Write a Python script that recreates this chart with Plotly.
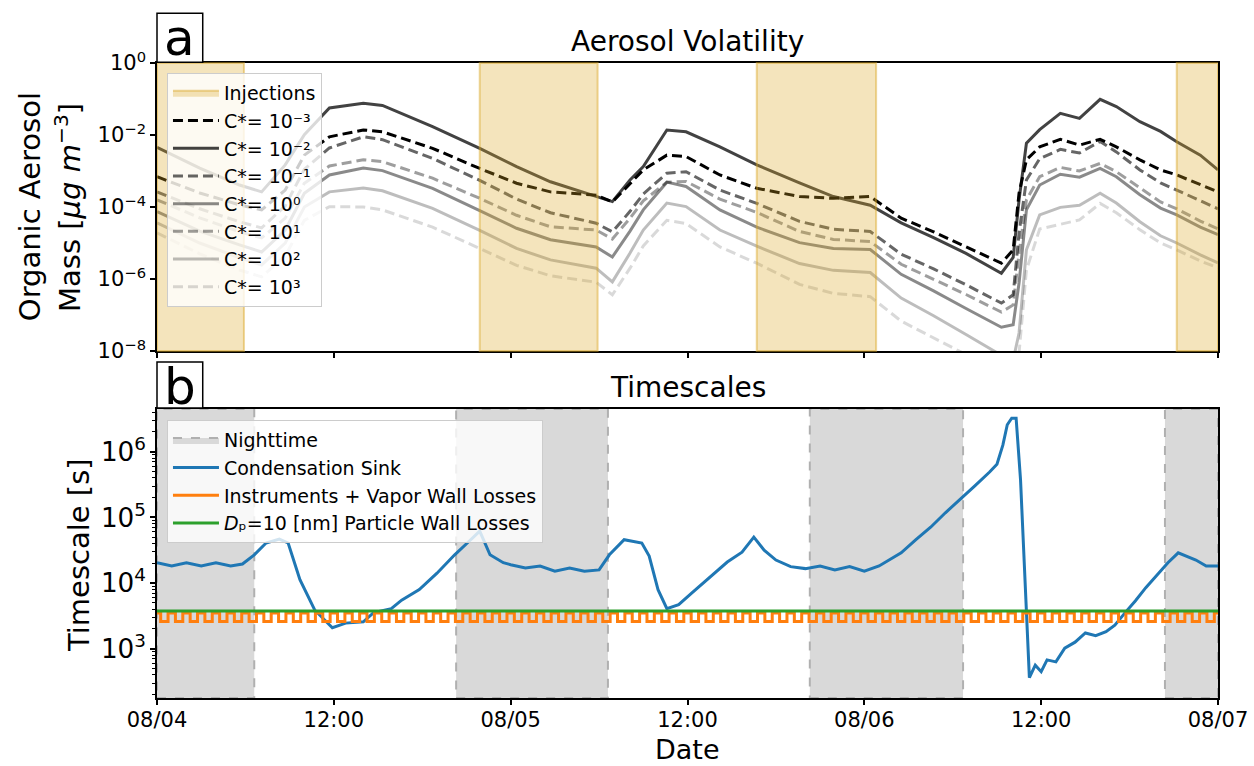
import numpy as np
import pandas as pd
import plotly.graph_objects as go

# ---------------- data ----------------
START = pd.Timestamp("2021-08-04 00:00")
X_TICK_HOURS = [0, 12, 24, 36, 48, 60, 72]
X_TICK_LABELS = ["08/04", "12:00", "08/05", "12:00", "08/06", "12:00", "08/07"]

INJECTION_SPANS_H = [(0.0, 5.9), (21.9, 29.9), (40.7, 48.8), (69.2, 72.0)]
NIGHT_SPANS_H = [(0.0, 6.6), (20.3, 30.6), (44.3, 54.7), (68.4, 72.0)]

# Panel a: organic aerosol mass per volatility bin (log10 of ug m-3)
VOL_HOURS = [0, 2.9, 5.6, 7.1, 8.7, 10.0, 11.7, 14.0, 15.3, 18.7, 21.9, 24.4, 26.7, 29.8,
             30.9, 32.1, 33.0, 34.6, 35.9, 38.2, 40.7, 43.6, 45.9, 48.4, 50.5, 52.7, 54.9,
             57.3, 58.1, 58.5, 59.0, 59.9, 61.3, 62.6, 64.0, 65.1, 66.7, 68.1, 69.2, 70.8, 72.0]
LOG10_C_M3 = [-3.16, -3.61, -3.94, -4.08, -3.53, -2.56, -2.05, -1.86, -1.91, -2.37, -2.93, -3.34,
              -3.58, -3.67, -3.86, -3.34, -2.97, -2.56, -2.60, -3.11, -3.48, -3.71, -3.76, -3.71,
              -4.31, -4.69, -5.10, -5.56, -5.19, -3.61, -2.69, -2.33, -2.12, -2.28, -2.12, -2.33,
              -2.69, -2.97, -3.11, -3.39, -3.58]
LOG10_C_M2 = [-2.34, -2.92, -3.39, -3.58, -2.83, -1.99, -1.25, -1.12, -1.18, -1.77, -2.37, -2.88,
              -3.30, -3.71, -3.85, -3.25, -2.88, -1.86, -1.91, -2.33, -2.83, -3.33, -3.71, -3.95,
              -4.44, -4.85, -5.29, -5.84, -5.40, -3.80, -2.23, -1.85, -1.40, -1.54, -1.01, -1.21,
              -1.63, -1.90, -2.19, -2.56, -2.97]
LOG10_C_M1 = [-3.58, -4.05, -4.41, -4.58, -3.97, -2.95, -2.36, -2.05, -2.13, -2.65, -3.26, -3.78,
              -4.16, -4.45, -4.69, -4.12, -3.64, -3.06, -3.02, -3.53, -3.90, -4.40, -4.62, -4.68,
              -5.31, -5.72, -6.16, -6.67, -6.44, -4.72, -3.25, -2.66, -2.40, -2.50, -2.18, -2.47,
              -2.97, -3.33, -3.53, -3.83, -4.05]
LOG10_C_0 = [-4.13, -4.67, -5.05, -5.25, -4.64, -3.62, -3.11, -2.92, -2.99, -3.48, -4.10, -4.59,
             -4.91, -5.11, -5.39, -4.67, -4.08, -3.31, -3.43, -4.08, -4.56, -4.99, -5.15, -5.18,
             -5.87, -6.33, -6.82, -7.34, -7.27, -6.11, -4.08, -3.39, -3.09, -3.17, -2.93, -3.16,
             -3.66, -4.03, -4.22, -4.56, -4.77]
LOG10_C_P1 = [-3.80, -4.30, -4.69, -4.86, -4.31, -3.34, -2.86, -2.69, -2.74, -3.20, -3.76, -4.23,
              -4.55, -4.64, -4.89, -4.31, -3.83, -3.31, -3.29, -3.78, -4.15, -4.68, -4.90, -4.96,
              -5.59, -6.00, -6.43, -6.92, -6.72, -5.28, -3.80, -3.16, -2.90, -3.00, -2.79, -3.02,
              -3.47, -3.86, -4.05, -4.39, -4.61]
LOG10_C_P2 = [-4.44, -5.00, -5.41, -5.61, -5.00, -4.00, -3.58, -3.47, -3.55, -4.04, -4.65, -5.15,
              -5.47, -5.70, -6.08, -5.28, -4.64, -3.89, -3.99, -4.64, -5.09, -5.57, -5.76, -5.82,
              -6.53, -7.02, -7.54, -8.12, -8.25, -7.50, -5.19, -4.22, -4.01, -3.95, -3.62, -3.89,
              -4.41, -4.80, -5.00, -5.33, -5.55]
LOG10_C_P3 = [-4.72, -5.30, -5.75, -5.94, -5.36, -4.37, -3.99, -4.00, -4.08, -4.56, -5.15, -5.62,
              -5.91, -6.09, -6.44, -5.70, -5.08, -4.37, -4.46, -5.11, -5.56, -6.15, -6.40, -6.49,
              -7.17, -7.63, -8.10, -8.67, -8.80, -8.05, -5.75, -4.61, -4.48, -4.36, -3.90, -4.16,
              -4.63, -5.00, -5.19, -5.50, -5.69]
VOL_LABELS = ["C*= 10⁻³", "C*= 10⁻²", "C*= 10⁻¹", "C*= 10⁰", "C*= 10¹", "C*= 10²", "C*= 10³"]

# Panel b: timescales (log10 of seconds for the condensation sink)
CS_HOURS = [0, 1, 2, 3, 4, 5, 5.8, 6.6, 7.4, 8.3, 8.9, 9.7, 10.7, 11.9, 12.8, 14.0, 14.7, 15.9,
            16.6, 17.8, 19.0, 20.2, 21.2, 21.9, 22.6, 23.5, 24, 25, 26, 27, 28, 29, 30, 30.7,
            31.7, 32.3, 32.9, 33.4, 34.0, 34.6, 35.4, 36.3, 37.5, 38.7, 39.7, 40.5, 41.2, 42,
            43, 44, 45, 46, 47, 48, 49, 50.5, 51.5, 52.5, 53.5, 54.5, 55.5, 56.5, 57.0, 57.4,
            57.7, 58.0, 58.3, 58.6, 58.9, 59.2, 59.6, 60.0, 60.4, 61.0, 61.6, 62.3, 63.0, 63.7,
            64.4, 65.0, 65.7, 66.4, 67.1, 67.8, 68.6, 69.3, 69.8, 70.5, 71.2, 72]
LOG10_CS = [4.31, 4.26, 4.31, 4.26, 4.31, 4.26, 4.29, 4.43, 4.61, 4.67, 4.61, 4.05, 3.59, 3.32,
            3.39, 3.41, 3.55, 3.61, 3.74, 3.90, 4.15, 4.43, 4.64, 4.79, 4.43, 4.31, 4.28, 4.23,
            4.26, 4.18, 4.23, 4.18, 4.20, 4.43, 4.66, 4.63, 4.61, 4.41, 3.90, 3.61, 3.67, 3.85,
            4.09, 4.32, 4.47, 4.70, 4.50, 4.35, 4.25, 4.22, 4.26, 4.20, 4.25, 4.18, 4.26, 4.46,
            4.66, 4.85, 5.07, 5.27, 5.48, 5.69, 5.81, 6.10, 6.41, 6.51, 6.51, 5.57, 4.05, 2.56,
            2.75, 2.65, 2.83, 2.80, 3.01, 3.10, 3.24, 3.20, 3.26, 3.36, 3.55, 3.73, 3.93, 4.11,
            4.31, 4.46, 4.41, 4.35, 4.26, 4.26]
INSTR_HIGH_S = 3.5e3        # instruments + vapor wall losses, hourly cycle
INSTR_LOW_S = 2.6e3
INSTR_CYCLE_HOURS = list(range(0, 72))
INSTR_LOW_WINDOW_H = (0.25, 0.75)
PWL_LEVEL_S = 3.76e3        # Dp = 10 nm particle wall losses

# ---------------- helpers ----------------
def to_time(hours):
    return [START + pd.Timedelta(hours=float(h)) for h in hours]

def iso(h):
    return (START + pd.Timedelta(hours=float(h))).isoformat()

FONT = "DejaVu Sans"
INJ_FILL = "rgba(218,165,32,0.30)"
INJ_EDGE = "rgba(218,165,32,0.45)"
NIGHT_FILL = "#d9d9d9"
NIGHT_EDGE = "#b0b0b0"

fig = go.Figure()

# legend patches
fig.add_trace(go.Scatter(x=[None], y=[None], mode="lines", fill="toself", fillcolor=INJ_FILL,
                         line=dict(color=INJ_EDGE, width=2), name="Injections",
                         xaxis="x", yaxis="y", legend="legend"))

vol_series = [LOG10_C_M3, LOG10_C_M2, LOG10_C_M1, LOG10_C_0, LOG10_C_P1, LOG10_C_P2, LOG10_C_P3]
vol_colors = ["rgba(0,0,0,1.0)", "rgba(0,0,0,0.74)", "rgba(0,0,0,0.60)", "rgba(0,0,0,0.46)",
              "rgba(0,0,0,0.38)", "rgba(0,0,0,0.26)", "rgba(0,0,0,0.15)"]
vol_dash = ["10px,5px", "solid", "10px,5px", "solid", "10px,5px", "solid", "10px,5px"]

for vals, name, col, dsh in zip(vol_series, VOL_LABELS, vol_colors, vol_dash):
    fig.add_trace(go.Scatter(
        x=to_time(VOL_HOURS), y=np.power(10.0, np.array(vals)), mode="lines", name=name,
        line=dict(color=col, width=3, dash=dsh), xaxis="x", yaxis="y", legend="legend",
        hoverinfo="skip"))

fig.add_trace(go.Scatter(x=[None], y=[None], mode="lines", fill="toself", fillcolor=NIGHT_FILL,
                         line=dict(color=NIGHT_EDGE, width=2, dash="dash"), name="Nighttime",
                         xaxis="x2", yaxis="y2", legend="legend2"))

# condensation sink
fig.add_trace(go.Scatter(
    x=to_time(CS_HOURS), y=np.power(10.0, np.array(LOG10_CS)), mode="lines",
    name="Condensation Sink", line=dict(color="#1f77b4", width=3),
    xaxis="x2", yaxis="y2", legend="legend2"))

# instruments + vapor wall losses (hourly on/off cycle)
ix, iy = [], []
for k in INSTR_CYCLE_HOURS:
    ix += [k, k + INSTR_LOW_WINDOW_H[0], k + INSTR_LOW_WINDOW_H[1]]
    iy += [INSTR_HIGH_S, INSTR_LOW_S, INSTR_HIGH_S]
ix.append(72)
iy.append(INSTR_HIGH_S)
fig.add_trace(go.Scatter(
    x=to_time(ix), y=iy, mode="lines", line_shape="hv",
    name="Instruments + Vapor Wall Losses", line=dict(color="#ff7f0e", width=3),
    xaxis="x2", yaxis="y2", legend="legend2"))

fig.add_trace(go.Scatter(
    x=to_time([0, 72]), y=[PWL_LEVEL_S, PWL_LEVEL_S], mode="lines",
    name="<i>D</i>ₚ=10 [nm] Particle Wall Losses",
    line=dict(color="#2ca02c", width=3), xaxis="x2", yaxis="y2", legend="legend2"))

shapes = []
for a, b in INJECTION_SPANS_H:
    shapes.append(dict(type="rect", xref="x", yref="y domain", x0=iso(a), x1=iso(b), y0=0, y1=1,
                       fillcolor=INJ_FILL, line=dict(color=INJ_EDGE, width=2), layer="above"))
for a, b in NIGHT_SPANS_H:
    shapes.append(dict(type="rect", xref="x2", yref="y2 domain", x0=iso(a), x1=iso(b), y0=0, y1=1,
                       fillcolor=NIGHT_FILL, line=dict(color=NIGHT_EDGE, width=2, dash="dash"),
                       layer="below"))

# panel letter boxes
shapes.append(dict(type="rect", xref="paper", yref="paper", x0=0, x1=0.0431, y0=0.924, y1=0.9952,
                   line=dict(color="black", width=1.5), fillcolor="white", layer="above"))
shapes.append(dict(type="rect", xref="paper", yref="paper", x0=0, x1=0.0431, y0=0.4215, y1=0.4884,
                   line=dict(color="black", width=1.5), fillcolor="white", layer="above"))

annotations = [
    dict(text="a", x=0.0216, y=0.9593, xref="paper", yref="paper", showarrow=False,
         xanchor="center", yanchor="middle", font=dict(size=50, family=FONT, color="black")),
    dict(text="b", x=0.0216, y=0.452, xref="paper", yref="paper", showarrow=False,
         xanchor="center", yanchor="middle", font=dict(size=50, family=FONT, color="black")),
    dict(text="Aerosol Volatility", x=0.5, y=0.9535, xref="paper", yref="paper", showarrow=False,
         xanchor="center", yanchor="middle", font=dict(size=28, family=FONT, color="black")),
    dict(text="Timescales", x=0.5, y=0.4506, xref="paper", yref="paper", showarrow=False,
         xanchor="center", yanchor="middle", font=dict(size=28, family=FONT, color="black")),
    dict(text="Organic Aerosol", x=-0.1195, y=0.7137, xref="paper", yref="paper", showarrow=False,
         textangle=-90, xanchor="center", yanchor="middle", font=dict(size=29, family=FONT, color="black")),
    dict(text="Mass [<i>μg m</i><sup>−3</sup>]", x=-0.0839, y=0.7137, xref="paper", yref="paper",
         showarrow=False, textangle=-90, xanchor="center", yanchor="middle",
         font=dict(size=29, family=FONT, color="black")),
    dict(text="Timescale [s]", x=-0.0735, y=0.2078, xref="paper", yref="paper", showarrow=False,
         textangle=-90, xanchor="center", yanchor="middle", font=dict(size=29, family=FONT, color="black")),
    dict(text="Date", x=0.5, y=-0.0755, xref="paper", yref="paper", showarrow=False,
         xanchor="center", yanchor="middle", font=dict(size=27, family=FONT, color="black")),
]

x_range = [START.isoformat(), iso(72)]
tickvals_x = [iso(h) for h in X_TICK_HOURS]
axis_common = dict(showline=True, mirror=True, linecolor="black", linewidth=1.6, showgrid=False,
                   zeroline=False, ticks="outside", ticklen=5, tickwidth=1.5, tickcolor="black",
                   tickfont=dict(size=21, family=FONT, color="black"))

TOP_Y_TICK_EXP = [0, -2, -4, -6, -8]
fig.update_layout(
    width=1254, height=766, margin=dict(l=157, r=36, t=10, b=68, autoexpand=False),
    paper_bgcolor="white", plot_bgcolor="white",
    font=dict(family=FONT, color="black"),
    xaxis=dict(domain=[0, 1], anchor="y", type="date", range=x_range, tickmode="array",
               tickvals=tickvals_x, ticktext=[""] * len(tickvals_x), showticklabels=False,
               matches="x2", **axis_common),
    xaxis2=dict(domain=[0, 1], anchor="y2", type="date", range=x_range, tickmode="array",
                tickvals=tickvals_x, ticktext=X_TICK_LABELS, ticklabelstandoff=-3, **axis_common),
    yaxis=dict(domain=[0.50436, 0.92297], anchor="x", type="log", range=[-8, 0], tickmode="array",
               tickvals=[10.0 ** e for e in TOP_Y_TICK_EXP],
               ticktext=["10<sup>%s</sup>" % (str(e).replace("-", "−")) for e in TOP_Y_TICK_EXP],
               **axis_common),
    yaxis2=dict(domain=[0, 0.42006], anchor="x2", type="log", range=[2.25, 6.65], dtick=1,
                exponentformat="power",
                minor=dict(ticks="outside", ticklen=3, tickwidth=1, tickcolor="black", dtick="D1"),
                **axis_common),
    legend=dict(x=0.0094, y=0.9084, xanchor="left", yanchor="top", bgcolor="rgba(255,255,255,0.8)",
                bordercolor="#cccccc", borderwidth=1, font=dict(size=19, family=FONT, color="black"),
                itemwidth=46, tracegroupgap=0),
    legend2=dict(x=0.0094, y=0.404, xanchor="left", yanchor="top", bgcolor="rgba(255,255,255,0.8)",
                 bordercolor="#cccccc", borderwidth=1, font=dict(size=19, family=FONT, color="black"),
                 itemwidth=46, tracegroupgap=0),
    shapes=shapes, annotations=annotations, showlegend=True,
)

fig.write_html("out.html")
